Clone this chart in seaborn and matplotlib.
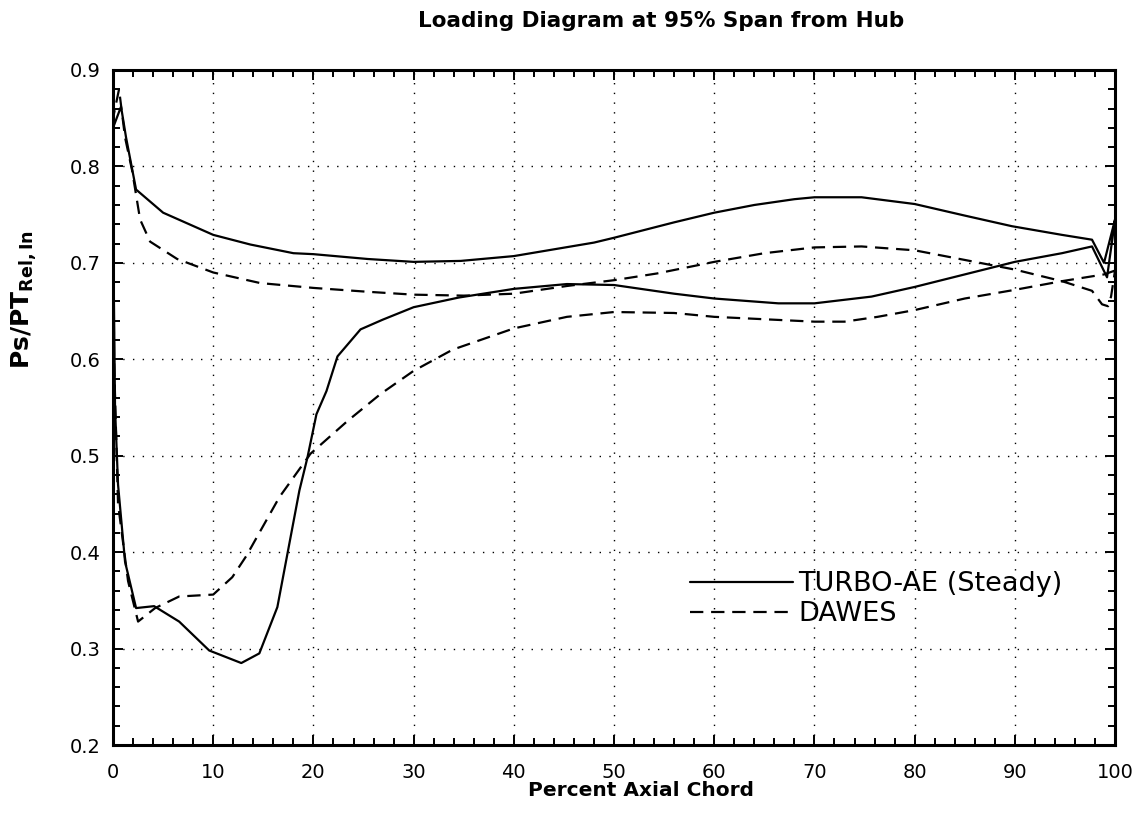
import matplotlib
matplotlib.use("Agg")
import matplotlib.pyplot as plt
import seaborn as sns
import numpy as np
from matplotlib.ticker import MultipleLocator

# TURBO-AE (steady) surface pressure, lower branch from trailing edge to leading edge
turbo_lower_x = [100.0, 99.2, 97.7, 94.7, 90.0, 85.0, 80.0, 75.7, 70.0, 66.4, 60.0, 56.0,
                 50.0, 45.3, 40.0, 34.5, 30.0, 26.9, 24.7, 22.4, 21.3, 20.3, 19.4, 18.6,
                 17.6, 16.4, 14.6, 12.8, 9.6, 6.6, 4.1, 2.3, 1.2, 0.5, 0.2, 0.05, 0.0]
turbo_lower_y = [0.745, 0.685, 0.717, 0.710, 0.701, 0.688, 0.675, 0.665, 0.658, 0.658, 0.663, 0.668,
                 0.677, 0.678, 0.673, 0.664, 0.654, 0.641, 0.631, 0.603, 0.567, 0.543, 0.498, 0.464,
                 0.409, 0.343, 0.295, 0.285, 0.298, 0.328, 0.344, 0.342, 0.390, 0.470, 0.550, 0.700, 0.840]
# TURBO-AE upper branch from leading edge to trailing edge
turbo_upper_x = [0.0, 0.8, 1.3, 2.3, 5.0, 10.0, 13.7, 18.0, 20.0, 25.4, 30.0, 34.7, 40.0,
                 48.0, 50.0, 56.0, 60.0, 64.0, 68.0, 70.0, 74.7, 80.0, 85.0, 89.7, 94.7,
                 97.7, 98.9, 100.0]
turbo_upper_y = [0.840, 0.862, 0.830, 0.776, 0.752, 0.729, 0.719, 0.710, 0.709, 0.704, 0.701, 0.702, 0.707,
                 0.721, 0.726, 0.742, 0.752, 0.760, 0.766, 0.768, 0.768, 0.761, 0.749, 0.738, 0.729,
                 0.724, 0.700, 0.745]

# DAWES surface pressure, lower branch from trailing edge to leading edge
dawes_lower_x = [100.0, 98.9, 94.7, 90.0, 85.0, 80.0, 76.3, 73.0, 70.0, 66.0, 60.0, 56.0,
                 50.0, 45.3, 40.0, 33.9, 30.0, 26.7, 23.4, 19.7, 16.6, 13.3, 11.9, 10.0,
                 6.6, 4.2, 2.5, 1.5, 0.5, 0.1, 0.0]
dawes_lower_y = [0.692, 0.688, 0.681, 0.672, 0.663, 0.651, 0.644, 0.639, 0.639, 0.641, 0.644, 0.648,
                 0.649, 0.644, 0.632, 0.610, 0.588, 0.564, 0.536, 0.502, 0.457, 0.396, 0.374, 0.356,
                 0.354, 0.342, 0.328, 0.370, 0.450, 0.600, 0.850]
# DAWES upper branch from leading edge to trailing edge
dawes_upper_x = [0.0, 0.6, 1.2, 1.9, 2.7, 3.7, 4.9, 6.4, 10.0, 14.7, 20.0, 25.4, 30.0, 35.0,
                 40.0, 45.3, 50.0, 54.3, 60.0, 65.0, 70.0, 74.7, 80.0, 85.0, 90.0, 94.7,
                 97.7, 98.7, 99.3, 99.6, 100.0]
dawes_upper_y = [0.850, 0.880, 0.830, 0.796, 0.745, 0.722, 0.714, 0.704, 0.690, 0.679, 0.674, 0.670, 0.667, 0.666,
                 0.668, 0.676, 0.682, 0.689, 0.701, 0.710, 0.716, 0.717, 0.713, 0.703, 0.693, 0.681,
                 0.671, 0.657, 0.655, 0.665, 0.692]

x_ticks = [0, 10, 20, 30, 40, 50, 60, 70, 80, 90, 100]
y_ticks = [0.2, 0.3, 0.4, 0.5, 0.6, 0.7, 0.8, 0.9]
y_tick_labels = ["0.2", "0.3", "0.4", "0.5", "0.6", "0.7", "0.8", "0.9"]

sns.set_theme(style="ticks")
plt.rcParams["font.family"] = ["DejaVu Sans"]
plt.rcParams["text.color"] = "black"
plt.rcParams["axes.labelcolor"] = "black"
plt.rcParams["xtick.color"] = "black"
plt.rcParams["ytick.color"] = "black"
plt.rcParams["mathtext.fontset"] = "custom"
plt.rcParams["mathtext.rm"] = "DejaVu Sans"
plt.rcParams["mathtext.bf"] = "DejaVu Sans:bold"

fig = plt.figure(figsize=(11.44, 8.30), dpi=100)
ax = fig.add_axes([0.0988, 0.1024, 0.8759, 0.8133])

turbo_x = turbo_lower_x + turbo_upper_x[1:]
turbo_y = turbo_lower_y + turbo_upper_y[1:]
dawes_x = dawes_lower_x + dawes_upper_x[1:]
dawes_y = dawes_lower_y + dawes_upper_y[1:]

sns.lineplot(x=turbo_x, y=turbo_y, sort=False, estimator=None, ax=ax,
             color="black", linewidth=1.6, label="TURBO-AE (Steady)")
sns.lineplot(x=dawes_x, y=dawes_y, sort=False, estimator=None, ax=ax,
             color="black", linewidth=1.6, label="DAWES")
ax.lines[1].set_dashes((6, 3.5))

ax.set_xlim(0, 100)
ax.set_ylim(0.2, 0.9)
ax.set_xticks(x_ticks)
ax.set_yticks(y_ticks)
ax.set_yticklabels(y_tick_labels)
ax.xaxis.set_minor_locator(MultipleLocator(2))
ax.yaxis.set_minor_locator(MultipleLocator(0.02))
ax.tick_params(which="both", direction="in", top=True, right=True, colors="black",
               labelcolor="black", labelsize=14, width=1.4)
ax.tick_params(which="major", length=7)
ax.tick_params(axis="x", which="major", pad=13)
ax.tick_params(axis="y", which="major", pad=9)
ax.tick_params(which="minor", length=5)
for s in ax.spines.values():
    s.set_linewidth(2.2)
    s.set_color("black")

ax.grid(True, which="major", color="black", linestyle=(0, (1, 6)), linewidth=1.0)

ax.set_xlabel("")
ax.set_ylabel("")
fig.text(0.578, 0.975, "Loading Diagram at 95% Span from Hub", ha="center", va="center",
         fontsize=15.5, fontweight="bold")
fig.text(0.560, 0.047, "Percent Axial Chord", ha="center", va="center",
         fontsize=14.5, fontweight="bold")
fig.text(0.021, 0.639, r"$\mathbf{Ps/PT}_{\mathbf{Rel,In}}$", ha="center", va="center",
         rotation=90, fontsize=18)

leg = ax.legend(loc="upper left", bbox_to_anchor=(0.576, 0.2575), frameon=False,
                fontsize=19.5, handlelength=3.8, handletextpad=0.2, labelspacing=0.15,
                borderpad=0, borderaxespad=0)
for h in leg.get_lines():
    h.set_linewidth(1.6)

fig.savefig("out.png", dpi=100)
